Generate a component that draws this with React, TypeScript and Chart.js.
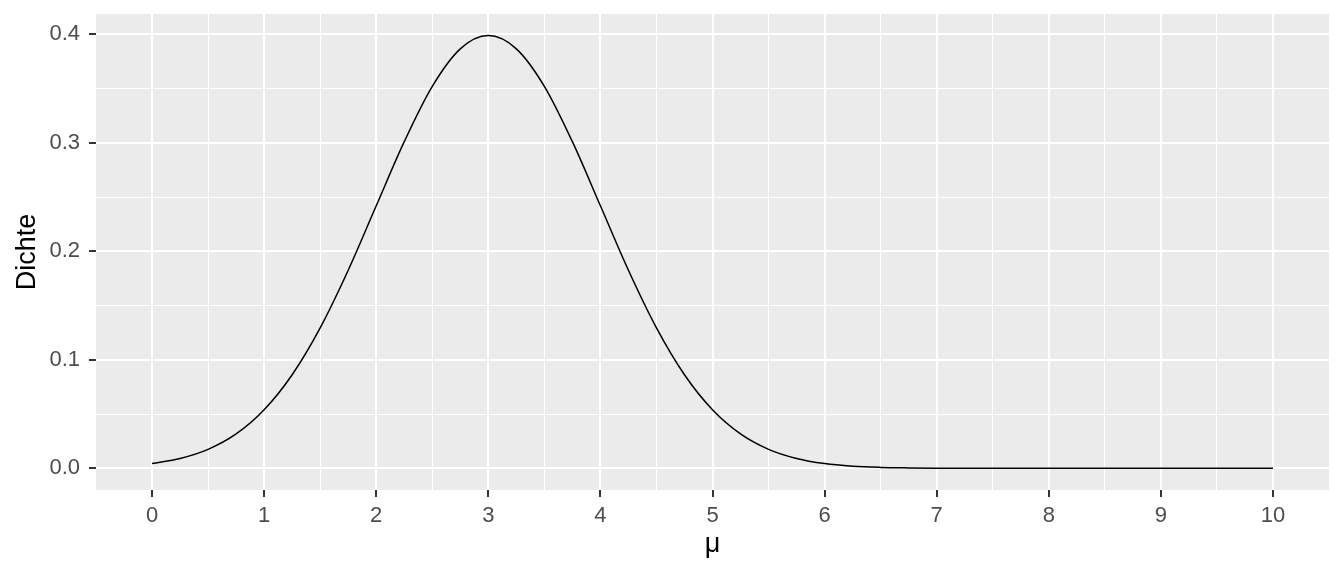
import React, { useEffect, useRef } from "react";
import { Chart, registerables } from "chart.js";

Chart.register(...registerables);

const muValues = [
  0, 0.25, 0.5, 0.75, 1, 1.25, 1.5, 1.75, 2, 2.25, 2.5, 2.75, 3, 3.25, 3.5, 3.75,
  4, 4.25, 4.5, 4.75, 5, 5.25, 5.5, 5.75, 6, 6.25, 6.5, 6.75, 7, 7.5, 8, 8.5, 9, 9.5, 10,
];
const densityValues = [
  0.0044, 0.0091, 0.0175, 0.0317, 0.054, 0.0863, 0.1295, 0.1826, 0.242, 0.3011, 0.3521,
  0.3867, 0.3989, 0.3867, 0.3521, 0.3011, 0.242, 0.1826, 0.1295, 0.0863, 0.054, 0.0317,
  0.0175, 0.0091, 0.0044, 0.002, 0.0009, 0.0004, 0.0001, 0, 0, 0, 0, 0, 0,
];
const xMajorTicks = [0, 1, 2, 3, 4, 5, 6, 7, 8, 9, 10];
const xMinorTicks = [0.5, 1.5, 2.5, 3.5, 4.5, 5.5, 6.5, 7.5, 8.5, 9.5];
const yMajorTicks = [0, 0.1, 0.2, 0.3, 0.4];
const yMinorTicks = [0.05, 0.15, 0.25, 0.35];
const xTitle = "μ";
const yTitle = "Dichte";

const panelBg = {
  id: "panelBg",
  beforeDraw(chart: any) {
    const { ctx, chartArea } = chart;
    ctx.save();
    ctx.fillStyle = "#EBEBEB";
    ctx.fillRect(chartArea.left, chartArea.top, chartArea.right - chartArea.left, chartArea.bottom - chartArea.top);
    ctx.restore();
  },
};

export default function App() {
  const ref = useRef<HTMLCanvasElement>(null);
  useEffect(() => {
    if (!ref.current) return;
    const isMajor = (list: number[], v: number) => list.some((m) => Math.abs(m - v) < 1e-9);
    const allX = [...xMajorTicks, ...xMinorTicks].sort((a, b) => a - b);
    const allY = [...yMajorTicks, ...yMinorTicks].sort((a, b) => a - b);
    const chart = new Chart(ref.current, {
      type: "scatter",
      data: {
        datasets: [
          {
            data: muValues.map((x, i) => ({ x, y: densityValues[i] })),
            showLine: true,
            borderColor: "#000000",
            borderWidth: 1.5,
            pointRadius: 0,
            cubicInterpolationMode: "monotone",
            fill: false,
          },
        ],
      },
      options: {
        animation: false,
        responsive: false,
        maintainAspectRatio: false,
        layout: { padding: { top: 14, right: 15, left: 0, bottom: 0 } },
        plugins: { legend: { display: false }, tooltip: { enabled: false } },
        scales: {
          x: {
            type: "linear",
            min: -0.5,
            max: 10.5,
            border: { display: false },
            afterBuildTicks: (s: any) => {
              s.ticks = allX.map((v) => ({ value: v }));
            },
            afterFit: (s: any) => {
              s.height = 86;
              s.paddingLeft = 0;
              s.paddingRight = 0;
            },
            grid: {
              color: "#FFFFFF",
              lineWidth: (c: any) => (isMajor(xMajorTicks, c.tick?.value) ? 2 : 1),
              tickColor: (c: any) => (isMajor(xMajorTicks, c.tick?.value) ? "#333333" : "rgba(0,0,0,0)"),
              tickWidth: 2,
              tickLength: 7,
              drawTicks: true,
            },
            ticks: {
              autoSkip: false,
              maxRotation: 0,
              padding: 6,
              color: "#4D4D4D",
              font: { family: "'Liberation Sans', Arial, sans-serif", size: 22 },
              callback: (v: any) => (isMajor(xMajorTicks, Number(v)) ? String(v) : ""),
            },
            title: {
              display: true,
              text: xTitle,
              color: "#000000",
              font: { family: "'Liberation Sans', Arial, sans-serif", size: 27 },
              padding: { top: 2, bottom: 15 },
            },
          },
          y: {
            type: "linear",
            min: -0.01995,
            max: 0.4188,
            border: { display: false },
            afterBuildTicks: (s: any) => {
              s.ticks = allY.map((v) => ({ value: v }));
            },
            afterFit: (s: any) => {
              s.width = 96;
              s.paddingTop = 0;
              s.paddingBottom = 0;
            },
            grid: {
              color: "#FFFFFF",
              lineWidth: (c: any) => (isMajor(yMajorTicks, c.tick?.value) ? 2 : 1),
              tickColor: (c: any) => (isMajor(yMajorTicks, c.tick?.value) ? "#333333" : "rgba(0,0,0,0)"),
              tickWidth: 2,
              tickLength: 7,
              drawTicks: true,
            },
            ticks: {
              autoSkip: false,
              padding: 9,
              color: "#4D4D4D",
              font: { family: "'Liberation Sans', Arial, sans-serif", size: 22 },
              callback: (v: any) => (isMajor(yMajorTicks, Number(v)) ? Number(v).toFixed(1) : ""),
            },
            title: {
              display: true,
              text: yTitle,
              color: "#000000",
              font: { family: "'Liberation Sans', Arial, sans-serif", size: 27 },
              padding: { top: 11, bottom: 4 },
            },
          },
        },
      },
      plugins: [panelBg],
    } as any);
    return () => chart.destroy();
  }, []);
  return (
    <div style={{ position: "fixed", left: 0, top: 0, width: 1344, height: 576, background: "#FFFFFF" }}>
      <canvas ref={ref} width={1344} height={576} style={{ width: 1344, height: 576 }} />
    </div>
  );
}
